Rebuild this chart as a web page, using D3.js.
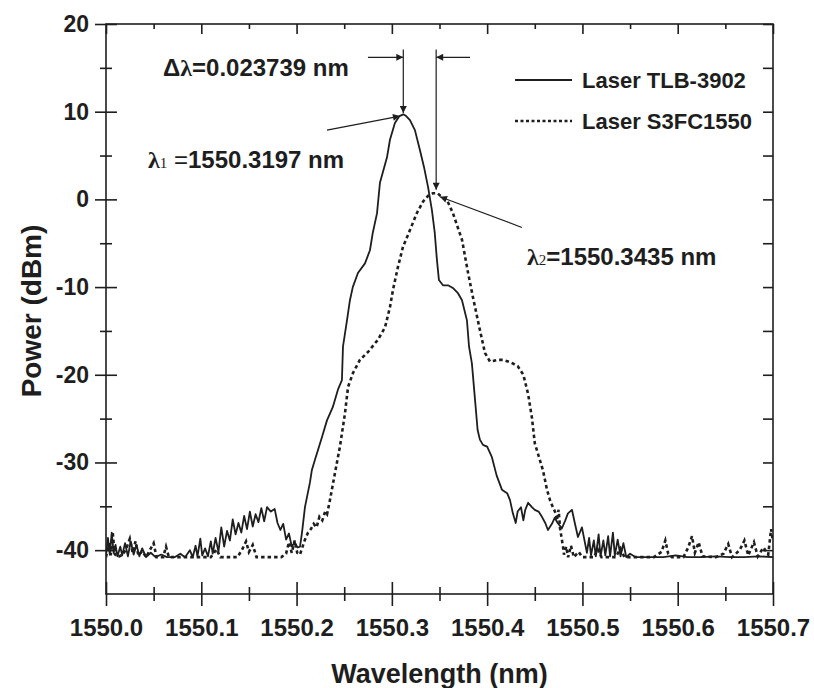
<!DOCTYPE html>
<html>
<head>
<meta charset="utf-8">
<script src="https://cdn.jsdelivr.net/npm/d3@7"></script>
<style>
  body { margin: 0; background: #fff; }
  svg text { font-family: "Liberation Sans", Arial, sans-serif; font-weight: bold; fill: #1e1e1e; }
</style>
</head>
<body>
<div id="chart"></div>
<script>
// spectra: [wavelength (nm), power (dBm)]
const tlb3902 = [
  [1550.000,-40.6],[1550.002,-38.6],[1550.004,-40.5],[1550.006,-38.0],[1550.008,-40.3],[1550.010,-39.4],[1550.012,-40.7],
  [1550.015,-39.6],[1550.017,-40.6],[1550.020,-39.2],[1550.023,-40.7],[1550.026,-39.0],[1550.029,-40.5],[1550.032,-39.4],
  [1550.035,-40.7],[1550.038,-39.8],[1550.042,-40.8],[1550.047,-40.3],[1550.052,-40.8],[1550.058,-40.5],[1550.064,-40.8],
  [1550.072,-40.8],[1550.078,-40.4],[1550.083,-40.8],[1550.088,-40.0],[1550.091,-40.8],[1550.094,-39.5],[1550.096,-40.7],
  [1550.099,-38.7],[1550.101,-40.6],[1550.104,-39.8],[1550.107,-40.7],[1550.110,-39.0],[1550.112,-40.4],[1550.115,-38.6],
  [1550.118,-40.2],[1550.121,-37.4],[1550.124,-39.6],[1550.127,-37.8],[1550.130,-38.9],[1550.133,-36.5],[1550.136,-38.2],
  [1550.139,-36.9],[1550.142,-38.0],[1550.145,-36.1],[1550.148,-37.6],[1550.151,-35.6],[1550.154,-37.3],[1550.157,-35.9],
  [1550.160,-36.8],[1550.163,-35.2],[1550.166,-36.7],[1550.169,-35.1],[1550.173,-35.6],[1550.177,-35.3],[1550.180,-36.9],
  [1550.183,-37.7],[1550.186,-37.0],[1550.189,-38.8],[1550.192,-38.1],[1550.195,-39.6],[1550.198,-39.1],[1550.201,-39.7],
  [1550.2036,-39.6],[1550.2057,-38.0],[1550.2088,-35.1],[1550.214,-32.3],[1550.216,-30.9],[1550.2193,-29.7],[1550.2267,-27.1],
  [1550.2319,-25.2],[1550.238,-23.7],[1550.2434,-21.7],[1550.2476,-20.6],[1550.2487,-16.8],[1550.2529,-13.8],[1550.256,-11.5],
  [1550.259,-10.0],[1550.2644,-8.4],[1550.2718,-7.3],[1550.277,-5.8],[1550.280,-3.8],[1550.2844,-1.6],[1550.2875,1.9],
  [1550.2949,4.8],[1550.298,6.8],[1550.3032,8.7],[1550.308,9.5],[1550.312,9.7],[1550.315,9.5],[1550.319,9.05],
  [1550.3242,7.9],[1550.3295,5.6],[1550.3337,3.7],[1550.338,1.4],[1550.342,-1.2],[1550.345,-3.8],[1550.3473,-6.9],
  [1550.3494,-9.2],[1550.3536,-9.8],[1550.359,-9.8],[1550.364,-10.1],[1550.3694,-10.7],[1550.3736,-11.5],[1550.3788,-13.8],
  [1550.381,-16.8],[1550.384,-18.7],[1550.387,-22.5],[1550.390,-26.3],[1550.3924,-27.4],[1550.3956,-28.0],[1550.400,-28.2],
  [1550.405,-29.4],[1550.410,-31.5],[1550.4155,-33.1],[1550.421,-33.5],[1550.424,-34.3],[1550.427,-35.8],[1550.430,-36.9],
  [1550.432,-35.6],[1550.4355,-35.1],[1550.438,-36.6],[1550.440,-35.4],[1550.443,-34.6],[1550.447,-35.1],[1550.450,-35.4],
  [1550.454,-35.6],[1550.4575,-36.2],[1550.461,-36.9],[1550.4638,-37.7],[1550.468,-37.0],[1550.471,-36.3],[1550.474,-36.9],
  [1550.4785,-37.5],[1550.482,-36.6],[1550.4848,-35.8],[1550.489,-35.4],[1550.492,-36.9],[1550.4953,-38.5],[1550.4995,-37.4],
  [1550.502,-38.8],[1550.5047,-40.3],[1550.507,-38.6],[1550.509,-40.6],[1550.512,-38.9],[1550.514,-40.7],[1550.517,-38.2],
  [1550.519,-40.7],[1550.522,-38.9],[1550.524,-40.6],[1550.527,-38.4],[1550.529,-40.7],[1550.532,-38.0],[1550.534,-40.6],
  [1550.537,-38.8],[1550.540,-40.7],[1550.543,-39.2],[1550.546,-40.8],[1550.550,-40.4],[1550.556,-40.8],[1550.570,-40.8],
  [1550.585,-40.8],[1550.598,-40.6],[1550.610,-40.8],[1550.625,-40.8],[1550.640,-40.7],[1550.655,-40.8],[1550.670,-40.8],
  [1550.685,-40.7],[1550.700,-40.8]
];

const s3fc1550 = [
  [1550.000,-40.8],[1550.003,-39.2],[1550.005,-40.6],[1550.007,-37.9],[1550.009,-40.4],[1550.012,-40.8],[1550.018,-40.5],
  [1550.022,-39.6],[1550.025,-38.7],[1550.028,-40.3],[1550.031,-39.0],[1550.034,-40.6],[1550.038,-40.1],[1550.042,-40.8],
  [1550.047,-39.8],[1550.050,-39.2],[1550.053,-40.8],[1550.060,-40.8],[1550.063,-39.6],[1550.066,-40.8],[1550.080,-40.8],
  [1550.095,-40.8],[1550.110,-40.8],[1550.116,-39.9],[1550.120,-40.8],[1550.138,-40.8],[1550.143,-39.9],[1550.147,-39.0],
  [1550.150,-40.2],[1550.154,-39.4],[1550.158,-40.8],[1550.172,-40.8],[1550.184,-40.8],[1550.189,-40.4],[1550.192,-39.1],
  [1550.195,-40.3],[1550.198,-38.9],[1550.2007,-40.3],[1550.2036,-40.5],[1550.2057,-39.8],[1550.2088,-38.8],[1550.212,-38.0],
  [1550.215,-37.6],[1550.218,-37.0],[1550.221,-37.4],[1550.224,-36.2],[1550.227,-36.6],[1550.230,-35.6],[1550.232,-35.9],
  [1550.235,-34.3],[1550.2403,-31.2],[1550.2455,-28.2],[1550.2508,-24.4],[1550.254,-21.4],[1550.2592,-19.8],[1550.2665,-18.3],
  [1550.275,-17.4],[1550.2854,-16.0],[1550.2928,-14.6],[1550.298,-12.3],[1550.3012,-10.3],[1550.3064,-7.7],[1550.3117,-5.4],
  [1550.319,-3.5],[1550.3263,-1.55],[1550.333,-0.2],[1550.338,0.4],[1550.343,0.7],[1550.348,0.7],[1550.353,0.2],
  [1550.358,-0.1],[1550.364,-1.55],[1550.3736,-4.6],[1550.380,-8.4],[1550.385,-11.1],[1550.3924,-14.9],[1550.3977,-17.5],
  [1550.403,-18.5],[1550.411,-18.3],[1550.4168,-18.3],[1550.425,-18.6],[1550.432,-19.0],[1550.438,-20.0],[1550.443,-22.2],
  [1550.447,-24.9],[1550.450,-27.8],[1550.4586,-30.9],[1550.4607,-32.0],[1550.4628,-33.1],[1550.466,-34.3],[1550.469,-35.1],
  [1550.472,-35.8],[1550.4733,-36.6],[1550.475,-35.4],[1550.4765,-37.5],[1550.478,-38.5],[1550.4796,-39.6],[1550.4806,-40.5],
  [1550.483,-39.6],[1550.485,-40.8],[1550.488,-39.5],[1550.491,-40.8],[1550.496,-40.2],[1550.500,-40.8],[1550.512,-40.8],
  [1550.516,-39.9],[1550.520,-40.8],[1550.535,-40.8],[1550.540,-39.8],[1550.544,-40.8],[1550.560,-40.8],[1550.575,-40.8],
  [1550.583,-40.2],[1550.587,-38.9],[1550.590,-40.4],[1550.594,-40.8],[1550.606,-40.8],[1550.611,-39.7],[1550.615,-38.4],
  [1550.618,-40.3],[1550.622,-39.1],[1550.626,-40.7],[1550.640,-40.8],[1550.648,-40.4],[1550.653,-39.3],[1550.657,-40.8],
  [1550.665,-40.0],[1550.670,-38.9],[1550.674,-40.6],[1550.680,-39.1],[1550.684,-40.7],[1550.690,-39.7],[1550.695,-40.5],
  [1550.698,-37.6],[1550.700,-39.0]
];

const xTicks = [1550.0, 1550.1, 1550.2, 1550.3, 1550.4, 1550.5, 1550.6, 1550.7];
const xMinor = [1550.05, 1550.15, 1550.25, 1550.35, 1550.45, 1550.55, 1550.65];
const yTicks = [-40, -30, -20, -10, 0, 10, 20];
const yMinor = [-35, -25, -15, -5, 5, 15];
const legendLabels = ["Laser TLB-3902", "Laser S3FC1550"];

// marked peaks (as drawn) and the annotation arrow tails
const peak1 = [1550.312, 9.85];
const peak2 = [1550.3465, 1.1];
const deltaY = 16.2, deltaTop = 17.1;
const lambda1Tail = [1550.2319, 7.9], lambda1Tip = [1550.3085, 9.5];
const lambda2Tail = [1550.4365, -3.2], lambda2Tip = [1550.3505, 0.3];

var margin = { top: 24, right: 41, bottom: 94, left: 106 },
    width = 814 - margin.left - margin.right,
    height = 688 - margin.top - margin.bottom;

var svg = d3.select("#chart")
    .append("svg")
    .attr("width", 814)
    .attr("height", 688)
    .append("g")
    .attr("transform", "translate(" + margin.left + "," + margin.top + ")");

var x = d3.scaleLinear().domain([1550.0, 1550.7]).range([0, width]);
var y = d3.scaleLinear().domain([-45, 20]).range([height, 0]);

var ink = "#1e1e1e";

// arrow head
svg.append("defs").append("marker")
    .attr("id", "arrow")
    .attr("viewBox", "0 0 10 10")
    .attr("refX", 10).attr("refY", 5)
    .attr("markerWidth", 11).attr("markerHeight", 7)
    .attr("markerUnits", "userSpaceOnUse")
    .attr("orient", "auto")
    .append("path")
    .attr("d", "M0,0L10,5L0,10z")
    .attr("fill", ink);

svg.append("clipPath").attr("id", "plotClip")
    .append("rect").attr("width", width).attr("height", height);

// frame
svg.append("rect")
    .attr("width", width).attr("height", height)
    .attr("fill", "none").attr("stroke", ink).attr("stroke-width", 1.6);

// bottom axis: ticks cross the line
var xAxis = svg.append("g")
    .attr("transform", "translate(0," + height + ")")
    .call(d3.axisBottom(x).tickValues(xTicks).tickSize(12).tickFormat(d3.format(".1f")));
xAxis.selectAll("line").attr("y1", -12);
xAxis.selectAll("text").attr("y", 25).style("font-size", "24px");

var xAxisMinor = svg.append("g")
    .attr("transform", "translate(0," + height + ")")
    .call(d3.axisBottom(x).tickValues(xMinor).tickSize(7).tickFormat(""));
xAxisMinor.selectAll("line").attr("y1", -7);

// top axis, ticks inward
svg.append("g")
    .call(d3.axisTop(x).tickValues(xTicks).tickSize(-10).tickFormat(""));
svg.append("g")
    .call(d3.axisTop(x).tickValues(xMinor).tickSize(-5).tickFormat(""));

// left axis (plain hyphen for negatives, as in the figure)
var yAxis = svg.append("g")
    .call(d3.axisLeft(y).tickValues(yTicks).tickSize(11).tickFormat(function (d) { return String(d); }));
yAxis.selectAll("line").attr("x1", 11);
yAxis.selectAll("text").attr("x", -17).style("font-size", "23px");

var yAxisMinor = svg.append("g")
    .call(d3.axisLeft(y).tickValues(yMinor).tickSize(6).tickFormat(""));
yAxisMinor.selectAll("line").attr("x1", 6);

// right axis, ticks inward
svg.append("g")
    .attr("transform", "translate(" + width + ",0)")
    .call(d3.axisRight(y).tickValues(yTicks.concat(yMinor)).tickSize(-10).tickFormat(""));

svg.selectAll(".domain").remove();
svg.selectAll(".tick line").attr("stroke", ink).attr("stroke-width", 1.6);

// axis titles
svg.append("text")
    .attr("x", width / 2 + 0)
    .attr("y", height + 89)
    .attr("text-anchor", "middle")
    .style("font-size", "27px")
    .text("Wavelength (nm)");

svg.append("text")
    .attr("transform", "translate(-65," + (height / 2 + 2) + ")rotate(-90)")
    .attr("text-anchor", "middle")
    .style("font-size", "28px")
    .text("Power (dBm)");

// spectra
var line = d3.line()
    .x(function (d) { return x(d[0]); })
    .y(function (d) { return y(d[1]); });

var plot = svg.append("g").attr("clip-path", "url(#plotClip)");

plot.append("path")
    .datum(s3fc1550)
    .attr("d", line)
    .attr("fill", "none")
    .attr("stroke", ink)
    .attr("stroke-width", 2.6)
    .attr("stroke-dasharray", "3.5,3");

plot.append("path")
    .datum(tlb3902)
    .attr("d", line)
    .attr("fill", "none")
    .attr("stroke", ink)
    .attr("stroke-width", 1.8)
    .attr("stroke-linejoin", "round");

// legend
var legend = svg.append("g");
legendLabels.forEach(function (label, i) {
    var ly = 56 + i * 41;
    legend.append("line")
        .attr("x1", 409).attr("x2", 466)
        .attr("y1", ly).attr("y2", ly)
        .attr("stroke", ink)
        .attr("stroke-width", i === 0 ? 1.8 : 2.4)
        .attr("stroke-dasharray", i === 0 ? null : "3,2.5");
    legend.append("text")
        .attr("x", 476)
        .attr("y", ly + 8)
        .style("font-size", "22px")
        .text(label);
});

// annotations
var ann = svg.append("g")
    .attr("stroke", ink)
    .attr("stroke-width", 1.2)
    .attr("fill", "none");

function arrow(a, b) {
    ann.append("line")
        .attr("x1", x(a[0])).attr("y1", y(a[1]))
        .attr("x2", x(b[0])).attr("y2", y(b[1]))
        .attr("marker-end", "url(#arrow)");
}

arrow([peak1[0], deltaTop], peak1);
arrow([peak2[0], deltaTop], peak2);
arrow([1550.2749, deltaY], [peak1[0], deltaY]);
arrow([1550.382, deltaY], [peak2[0], deltaY]);
arrow(lambda1Tail, lambda1Tip);
arrow(lambda2Tail, lambda2Tip);

var greek = "'Liberation Serif', 'DejaVu Serif', serif";

var t0 = svg.append("text").attr("x", 57).attr("y", 52).style("font-size", "24px");
t0.append("tspan").text("Δ");
t0.append("tspan").style("font-family", greek).text("λ");
t0.append("tspan").text("=0.023739 nm");

var t1 = svg.append("text").attr("x", 42).attr("y", 144).style("font-size", "24px");
t1.append("tspan").style("font-family", greek).text("λ");
t1.append("tspan").style("font-family", greek).style("font-weight", "normal").style("font-size", "15px").text("1");
t1.append("tspan").style("font-weight", "normal").text(" =");
t1.append("tspan").text("1550.3197 nm");

var t2 = svg.append("text").attr("x", 421).attr("y", 241).style("font-size", "24px");
t2.append("tspan").style("font-family", greek).text("λ");
t2.append("tspan").style("font-family", greek).style("font-weight", "normal").style("font-size", "15px").text("2");
t2.append("tspan").text("=1550.3435 nm");
</script>
</body>
</html>
